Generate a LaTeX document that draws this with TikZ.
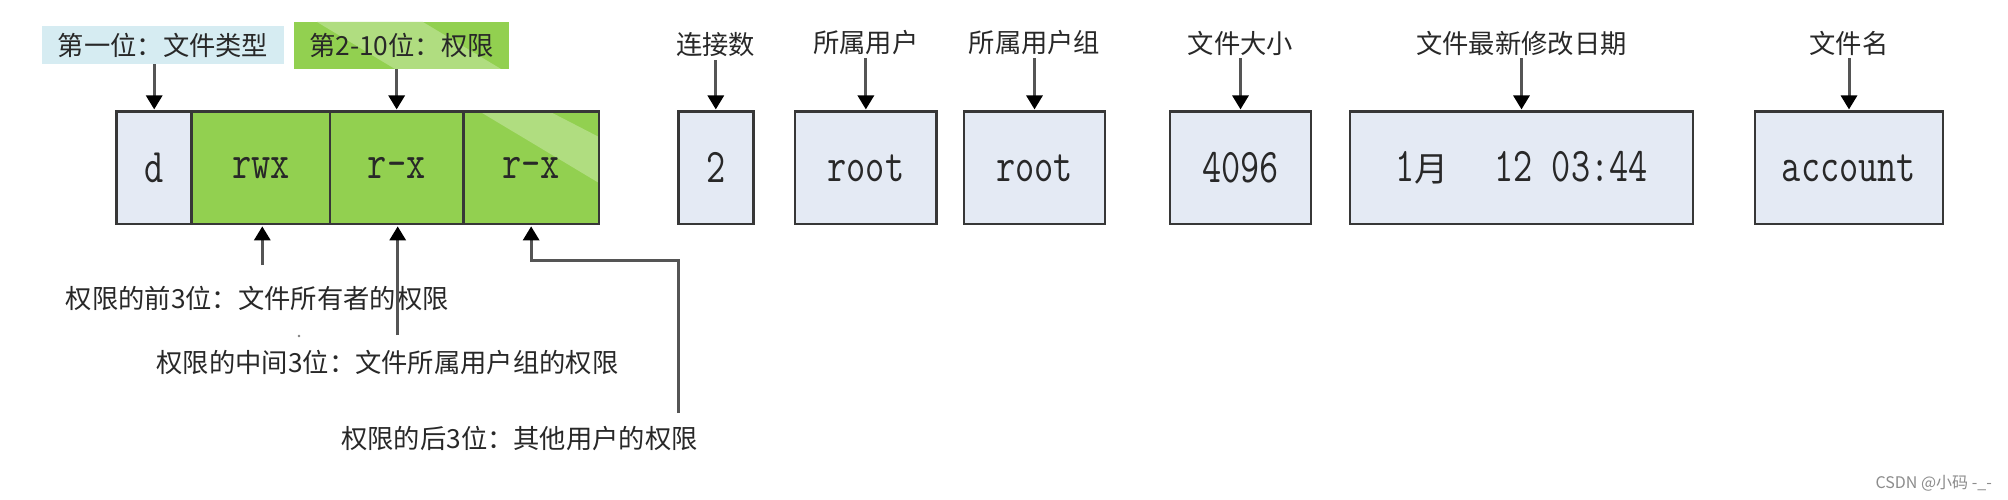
\documentclass[tikz,border=0pt]{standalone}
\usepackage{fontspec}
\usepackage{graphicx}
\newfontfamily\cjk{Noto Sans CJK SC}
\usetikzlibrary{arrows.meta}
\definecolor{cyanbg}{RGB}{214,236,242}
\definecolor{boxbg}{RGB}{228,234,244}
\definecolor{grn}{RGB}{146,208,80}
\definecolor{grnlt}{RGB}{176,221,128}
\definecolor{edge}{RGB}{55,55,55}
\definecolor{arr}{RGB}{85,85,85}
\definecolor{txt}{RGB}{40,40,40}
\newcommand\bxf[1]{\scalebox{0.81}[1.05]{\fontsize{46}{46}\selectfont\ttfamily #1}}
\begin{document}
\begin{tikzpicture}[x=1pt,y=-1pt,
  cell/.style={draw=edge, line width=2.6pt, fill=boxbg, inner sep=0pt, minimum height=112.3pt, text=txt},
  gcell/.style={cell, fill=grn},
  lbl/.style={inner sep=0pt, minimum height=30pt, text=txt, font=\fontsize{26.3}{26.3}\selectfont\cjk},
  arrow/.style={draw=arr, line width=3pt, shorten >=1pt, -{Triangle[length=14pt,width=16pt,color=black]}},
]
\useasboundingbox (0,0) rectangle (2008,500);
\fill[white] (0,0) rectangle (2008,500);

% top labels with backgrounds
\node[lbl, fill=cyanbg, minimum width=242pt, minimum height=38pt] (lab1) at (163,45) {第一位：文件类型};
\fill[grn] (294,22) rectangle (509,69);
\fill[grnlt] (317,22) -- (423,22) -- (501,69) -- (395,69) -- cycle;
\node[lbl, minimum width=215pt, minimum height=47pt] (lab2) at (401.5,45.5) {第2-10位：权限};

% permission strip
\node[cell, minimum width=75pt] (d) at (154.2,167.9) {\bxf{d}};
\node[gcell, minimum width=138.3pt] (rwx) at (260.85,167.9) {\bxf{rwx}};
\node[gcell, minimum width=133.3pt] (rx1) at (396.65,167.9) {\bxf{r-x}};
\fill[grn] (463.3,111.75) rectangle (599,224.05);
\fill[grnlt] (480,111.75) -- (550,111.75) -- (599,137) -- (599,183) -- cycle;
\node[cell, fill=none, minimum width=135.7pt] (rx2) at (531.15,167.9) {\bxf{r-x}};

% other fields
\node[cell, minimum width=75pt] (n2) at (715.8,167.9) {\bxf{2}};
\node[cell, minimum width=141.7pt] (u1) at (865.85,167.9) {\bxf{root}};
\node[cell, minimum width=141pt] (g1) at (1034.5,167.9) {\bxf{root}};
\node[cell, minimum width=141pt] (sz) at (1240.5,167.9) {\bxf{4096}};
\node[cell, minimum width=343pt] (dt) at (1521.5,167.9) {\bxf{1}{\fontsize{34}{34}\selectfont\cjk 月}\hspace{46pt}\bxf{12 03:44}};
\node[cell, minimum width=188pt] (fn) at (1849,167.9) {\bxf{account}};

% field labels
\node[lbl] (l2) at (715.8,45) {连接数};
\node[lbl] (lu) at (865.85,43) {所属用户};
\node[lbl] (lg) at (1034.5,43) {所属用户组};
\node[lbl] (ls) at (1240.5,43) {文件大小};
\node[lbl] (ld) at (1521.5,43) {文件最新修改日期};
\node[lbl] (lf) at (1849,43) {文件名};

% top arrows
\draw[arrow] (lab1.south -| d.north) -- (d.north);
\draw[arrow] (lab2.south -| rx1.north) -- (rx1.north);
\draw[arrow] (l2.south) -- (n2.north);
\draw[arrow] (lu.south) -- (u1.north);
\draw[arrow] (lg.south) -- (g1.north);
\draw[arrow] (ls.south) -- (sz.north);
\draw[arrow] (ld.south) -- (dt.north);
\draw[arrow] (lf.south) -- (fn.north);

% bottom texts
\node[lbl] (t1) at (257.3,298) {权限的前3位：文件所有者的权限};
\node[lbl] (t2) at (387.5,362) {权限的中间3位：文件所属用户组的权限};
\node[lbl] (t3) at (519.5,438) {权限的后3位：其他用户的权限};
\fill[txt!60] (299,336) circle (1.3pt);

% bottom arrows
\coordinate (b1) at (262.3,265);
\draw[arrow] (b1) -- (b1 |- rwx.south);
\coordinate (b2) at (397.7,335);
\draw[arrow] (b2) -- (b2 |- rx1.south);
\coordinate (b3) at (678,413);
\coordinate (k3) at (531.15,260);
\draw[arrow] (b3) |- (k3) -- (rx2.south);

% watermark
\node[inner sep=0pt, anchor=east, text=black!45, font=\fontsize{16}{16}\selectfont\cjk] (wm) at (1992,483) {CSDN @小码 -\_-};
\end{tikzpicture}
\end{document}
